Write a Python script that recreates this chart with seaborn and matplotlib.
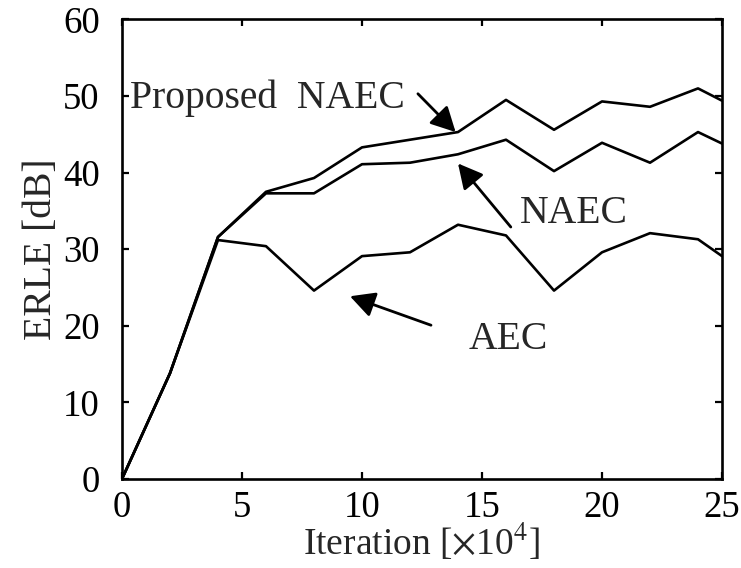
import matplotlib
matplotlib.use("Agg")
import matplotlib.pyplot as plt
import seaborn as sns
import pandas as pd

# Iteration index (x 10^4) and ERLE in dB for each canceller
iterations = [0, 2, 4, 6, 8, 10, 12, 14, 16, 18, 20, 22, 24, 25]
erle_proposed = [0, 13.8, 31.6, 37.5, 39.3, 43.3, 44.3, 45.3, 49.5, 45.6, 49.3, 48.6, 51.0, 49.4]
erle_naec = [0, 13.8, 31.6, 37.3, 37.3, 41.1, 41.3, 42.4, 44.3, 40.2, 43.9, 41.3, 45.3, 43.8]
erle_aec = [0, 13.8, 31.2, 30.4, 24.6, 29.1, 29.6, 33.2, 31.8, 24.6, 29.6, 32.1, 31.3, 29.1]

series_names = ["Proposed NAEC", "NAEC", "AEC"]
x_ticks = [0, 5, 10, 15, 20, 25]
y_ticks = [0, 10, 20, 30, 40, 50, 60]

df = pd.concat(
    [
        pd.DataFrame({"Iteration": iterations, "ERLE": vals, "Method": name})
        for name, vals in zip(series_names, [erle_proposed, erle_naec, erle_aec])
    ],
    ignore_index=True,
)

sns.set_style("ticks")
plt.rcParams["font.family"] = ["Liberation Serif", "DejaVu Serif"]
plt.rcParams["mathtext.fontset"] = "stix"

fig = plt.figure(figsize=(7.41, 5.68), dpi=100)
ax = fig.add_axes([0.1646, 0.1567, 0.8098, 0.809])

sns.lineplot(
    data=df, x="Iteration", y="ERLE", hue="Method",
    palette=["black"] * 3, linewidth=1.9, legend=False, ax=ax,
)

ax.set_xlim(0, 25)
ax.set_ylim(0, 60)
ax.set_xticks(x_ticks)
ax.set_yticks(y_ticks)

tick_fs = 26.5
note_fs = 28.5
ax.tick_params(axis="both", which="major", direction="in", length=5, width=1.6,
               labelsize=tick_fs, top=True, right=True, colors="black")
ax.tick_params(axis="x", pad=8)
ax.tick_params(axis="y", pad=16)
for sp in ax.spines.values():
    sp.set_visible(True)
    sp.set_linewidth(1.9)
    sp.set_color("black")

ax.set_xlabel(r"Iteration [$\times$10$^4$]", fontsize=27, labelpad=-2)
ax.set_ylabel("ERLE [dB]", fontsize=28.5, labelpad=2)

arrow = dict(arrowstyle="-|>,head_length=0.5,head_width=0.26", color="black",
             lw=2.0, mutation_scale=30, shrinkA=0, shrinkB=0)

ax.text(0.33, 48.5, "Proposed  NAEC", fontsize=note_fs, va="baseline", ha="left")
ax.annotate("", xy=(13.9, 45.3), xytext=(12.33, 50.3), arrowprops=arrow)

ax.text(16.58, 33.4, "NAEC", fontsize=note_fs, va="baseline", ha="left")
ax.annotate("", xy=(14.0, 41.2), xytext=(16.2, 32.9), arrowprops=arrow)

ax.text(14.46, 16.95, "AEC", fontsize=note_fs, va="baseline", ha="left")
ax.annotate("", xy=(9.5, 23.86), xytext=(12.875, 20.08), arrowprops=arrow)

fig.savefig("out.png", dpi=100)
